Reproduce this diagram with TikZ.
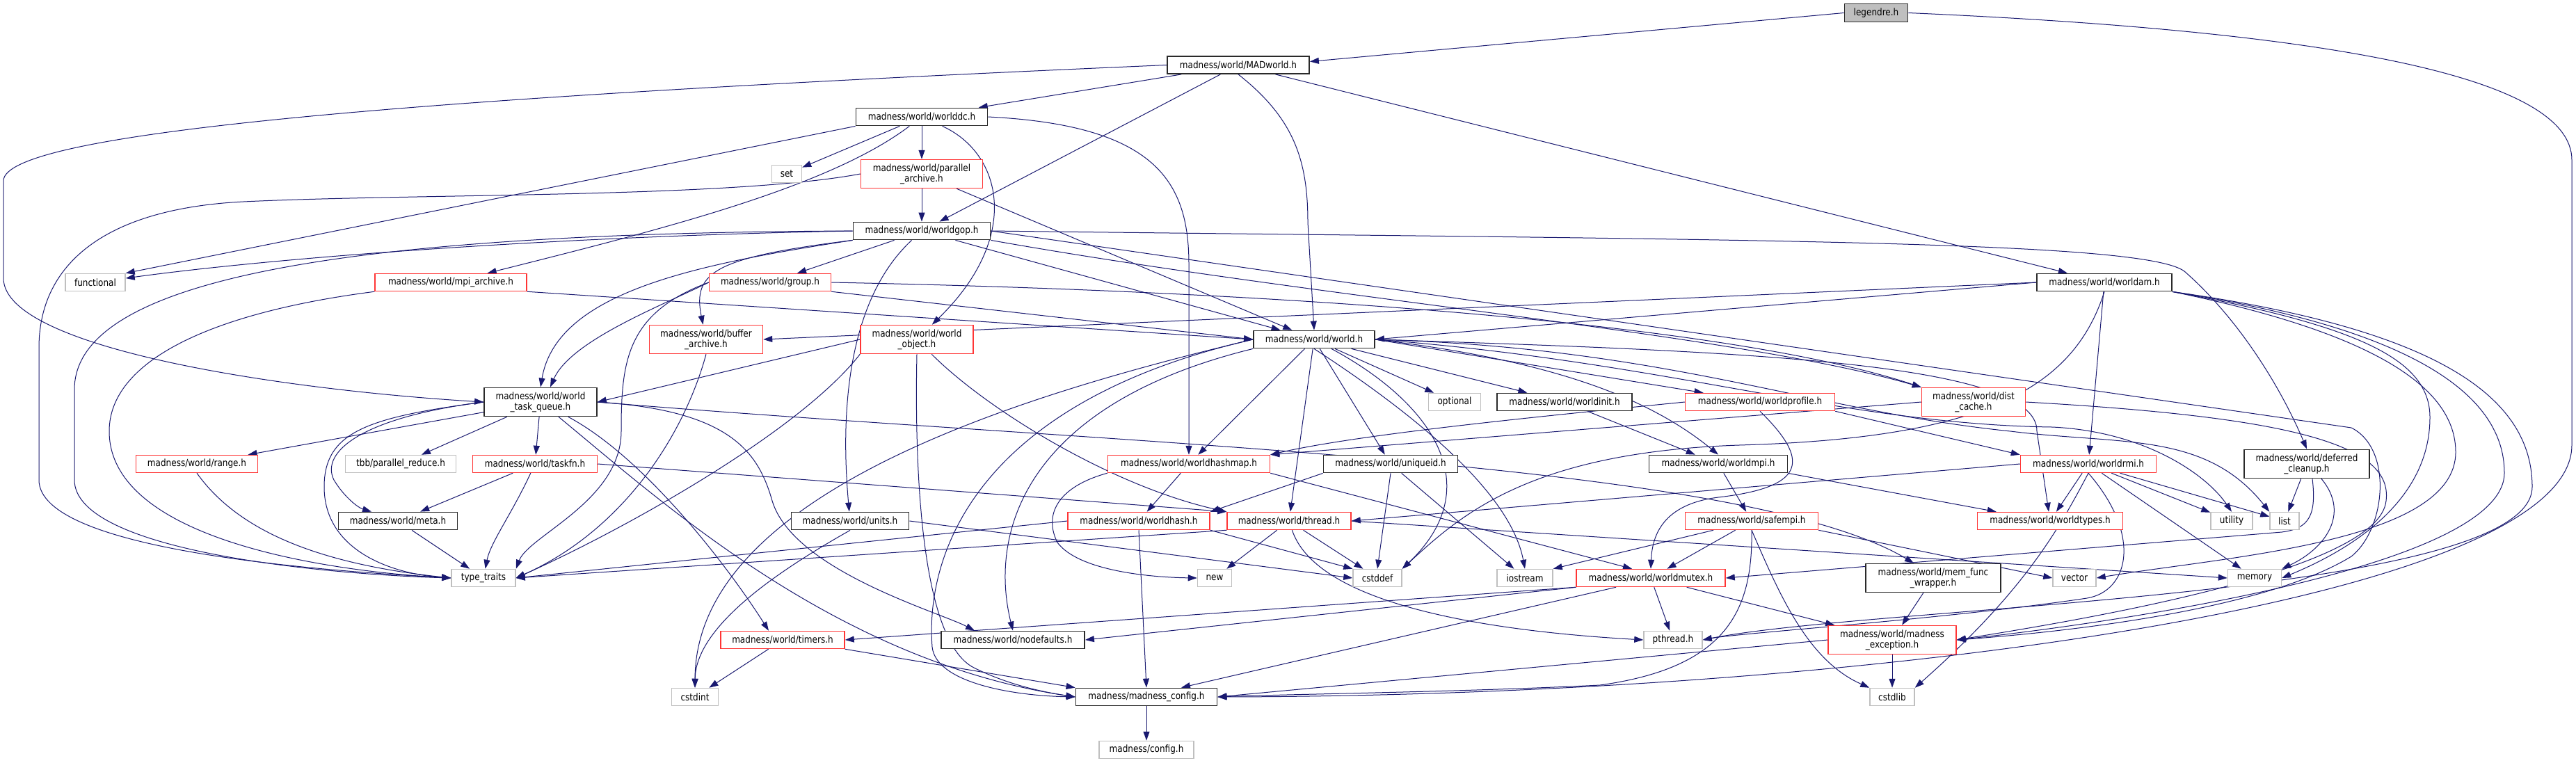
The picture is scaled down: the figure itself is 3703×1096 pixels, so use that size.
\documentclass[tikz,border=0pt]{standalone}
\usepackage{fontspec}
\newfontfamily\nodefont{DejaVu Sans}[FakeStretch=0.86]
\usetikzlibrary{arrows.meta}
\definecolor{edgec}{HTML}{191970}
\definecolor{nred}{HTML}{FF3535}
\definecolor{lgray}{HTML}{BFBFBF}
\definecolor{dgray}{HTML}{2A2A2A}
\pgfdeclarelayer{bg}
\pgfsetlayers{bg,main}
\begin{document}
\begin{tikzpicture}[x=1pt,y=-1pt,
  nd/.style={draw, rectangle, inner sep=0pt, minimum height=25pt, fill=white, line width=1.5pt,
             font={\nodefont\fontsize{14}{15}\selectfont}},
  blk/.style={nd, draw=dgray, line width=1.8pt},
  rd/.style={nd, draw=nred},
  gr/.style={nd, draw=lgray},
  two/.style={minimum height=41pt, align=center},
  e/.style={draw=edgec, line width=1pt, -{Triangle[length=13pt,width=9pt]}}]
\useasboundingbox (0,0) rectangle (3703,1096);

% ---------- nodes ----------
\node[blk, fill=lgray, minimum width=91pt, minimum height=26pt] (legendre) at (2697,18.5) {legendre.h};
\node[blk, minimum width=204pt] (madworld) at (1780,93.5) {madness/world/MADworld.h};
\node[blk, minimum width=189pt] (worlddc) at (1325,168) {madness/world/worlddc.h};
\node[gr, minimum width=43pt] (set) at (1131,250) {set};
\node[rd, two, minimum width=175pt] (parar) at (1325,250) {madness/world/parallel\\\_archive.h};
\node[blk, minimum width=197pt] (worldgop) at (1325,332) {madness/world/worldgop.h};
\node[gr, minimum width=86pt] (functional) at (137,406) {functional};
\node[rd, minimum width=218pt] (mpiar) at (648,406) {madness/world/mpi\_archive.h};
\node[rd, minimum width=175pt] (group) at (1107,406) {madness/world/group.h};
\node[blk, minimum width=194pt] (worldam) at (3025,406) {madness/world/worldam.h};
\node[rd, two, minimum width=163pt] (bufar) at (1015,488) {madness/world/buffer\\\_archive.h};
\node[rd, two, minimum width=162pt] (wobj) at (1318,488) {madness/world/world\\\_object.h};
\node[blk, minimum width=174pt] (world) at (1889,488) {madness/world/world.h};
\node[blk, two, minimum width=162pt] (wtq) at (777,578) {madness/world/world\\\_task\_queue.h};
\node[gr, minimum width=75pt] (optional) at (2091,578) {optional};
\node[blk, minimum width=194pt] (worldinit) at (2249,578) {madness/world/worldinit.h};
\node[rd, minimum width=215pt] (worldprofile) at (2530,578) {madness/world/worldprofile.h};
\node[rd, two, minimum width=149pt] (distcache) at (2837,578) {madness/world/dist\\\_cache.h};
\node[rd, minimum width=175pt] (range) at (283,667) {madness/world/range.h};
\node[gr, minimum width=159pt] (tbb) at (576,667) {tbb/parallel\_reduce.h};
\node[rd, minimum width=179pt] (taskfn) at (769,667) {madness/world/taskfn.h};
\node[rd, minimum width=233pt] (hashmap) at (1709,667) {madness/world/worldhashmap.h};
\node[blk, minimum width=193pt] (uniqueid) at (1999,667) {madness/world/uniqueid.h};
\node[blk, minimum width=199pt] (worldmpi) at (2470,667) {madness/world/worldmpi.h};
\node[rd, minimum width=195pt] (worldrmi) at (3002,667) {madness/world/worldrmi.h};
\node[blk, two, minimum width=180pt] (defcl) at (3316,667) {madness/world/deferred\\\_cleanup.h};
\node[blk, minimum width=171pt] (meta) at (572,749) {madness/world/meta.h};
\node[blk, minimum width=169pt] (units) at (1222,749) {madness/world/units.h};
\node[rd, minimum width=204pt] (worldhash) at (1637,749) {madness/world/worldhash.h};
\node[rd, minimum width=178pt] (thread) at (1853,749) {madness/world/thread.h};
\node[rd, minimum width=191pt] (safempi) at (2518,749) {madness/world/safempi.h};
\node[rd, minimum width=209pt] (worldtypes) at (2947,749) {madness/world/worldtypes.h};
\node[gr, minimum width=60pt] (utility) at (3208,749) {utility};
\node[gr, minimum width=42pt] (list) at (3284,749) {list};
\node[gr, minimum width=92pt] (typetraits) at (695,831) {type\_traits};
\node[gr, minimum width=49pt] (new) at (1746,831) {new};
\node[gr, minimum width=70pt] (cstddef) at (1980,831) {cstddef};
\node[gr, minimum width=80pt] (iostream) at (2192,831) {iostream};
\node[rd, minimum width=214pt] (worldmutex) at (2373,831) {madness/world/worldmutex.h};
\node[blk, two, minimum width=194pt] (memfunc) at (2779,831) {madness/world/mem\_func\\\_wrapper.h};
\node[gr, minimum width=62pt] (vector) at (2982,831) {vector};
\node[gr, minimum width=77pt] (memory) at (3241,831) {memory};
\node[rd, minimum width=178pt] (timers) at (1125,920) {madness/world/timers.h};
\node[blk, minimum width=206pt] (nodefaults) at (1456,920) {madness/world/nodefaults.h};
\node[gr, minimum width=84pt] (pthread) at (2405,920) {pthread.h};
\node[rd, two, minimum width=184pt] (mexc) at (2720,920) {madness/world/madness\\\_exception.h};
\node[gr, minimum width=67pt] (cstdint) at (999,1002) {cstdint};
\node[blk, minimum width=203pt] (mconfig) at (1648,1002) {madness/madness\_config.h};
\node[gr, minimum width=64pt] (cstdlib) at (2720,1002) {cstdlib};
\node[gr, minimum width=136pt] (config) at (1648,1078) {madness/config.h};

% ---------- edges ----------
\begin{pgfonlayer}{bg}
\fill[white] (0,0) rectangle (3703,1096);
% legendre
\draw[e] (legendre.west) -- ([yshift=5pt]madworld.east);
\draw[e] (legendre.east) .. controls (3350,45) and (3697,110) .. (3697,230) -- (3697,640) .. controls (3697,860) and (2700,1000) .. (mconfig.east);
% MADworld
\draw[e] (madworld) -- (worlddc);
\draw[e] (madworld) -- (worldgop);
\draw[e] (madworld.south) .. controls (1860,170) and (1880,230) .. (1880,320) -- (world.north);
\draw[e] (madworld) -- (worldam);
\draw[e] (madworld.west) .. controls (600,140) and (5,190) .. (5,260) -- (5,400) .. controls (5,500) and (400,560) .. (wtq.west);
% worlddc
\draw[e] (worlddc) -- (set);
\draw[e] (worlddc) -- (parar);
\draw[e] (worlddc.south west) -- (functional.north east);
\draw[e] (worlddc) .. controls (1190,270) and (950,330) .. (mpiar);
\draw[e] (worlddc) .. controls (1440,220) and (1470,340) .. (wobj);
\draw[e] (worlddc.east) .. controls (1660,180) and (1709,260) .. (1709,380) -- (hashmap);
% parallel archive
\draw[e] (parar) -- (worldgop);
\draw[e] (parar) -- (world);
\draw[e] (parar.west) .. controls (1050,285) and (600,278) .. (350,290) .. controls (150,300) and (56,380) .. (56,500) -- (56,690) .. controls (56,790) and (450,820) .. (typetraits.west);
% worldgop
\draw[e] (worldgop.west) .. controls (800,340) and (400,370) .. (functional);
\draw[e] (worldgop.west) .. controls (500,335) and (107,400) .. (107,560) -- (107,690) .. controls (107,790) and (450,825) .. (typetraits.west);
\draw[e] (worldgop.south west) .. controls (1000,380) and (800,420) .. (wtq.north);
\draw[e] (worldgop) -- (group);
\draw[e] (worldgop.south west) .. controls (1030,370) and (995,390) .. (bufar);
\draw[e] (worldgop) -- (world);
\draw[e] (worldgop) .. controls (1230,420) and (1205,560) .. (units);
\draw[e] (worldgop.east) .. controls (2500,345) and (3080,345) .. (3140,390) .. controls (3220,460) and (3280,560) .. (defcl.north);
\draw[e] (worldgop.south east) .. controls (1900,430) and (2500,480) .. (distcache.north west);
\draw[e] (worldgop.east) -- (3380,615) .. controls (3440,645) and (3430,760) .. (3380,800) .. controls (3250,880) and (2950,910) .. (mexc.east);
% mpi archive
\draw[e] (mpiar.south east) -- (world.west);
\draw[e] (mpiar.south west) .. controls (300,450) and (157,520) .. (157,620) .. controls (157,770) and (450,820) .. (typetraits.west);
% group
\draw[e] (group.south east) -- (world.west);
\draw[e] (group.west) .. controls (900,450) and (893,520) .. (893,620) .. controls (893,720) and (760,770) .. (typetraits.north east);
\draw[e] (group.west) .. controls (950,440) and (820,490) .. ([xshift=14pt]wtq.north);
\draw[e] (group.east) .. controls (1900,420) and (2500,470) .. (distcache.north west);
% worldam
\draw[e] (worldam.west) -- (world.east);
\draw[e] (worldam.west) -- (bufar.east);
\draw[e] (worldam) -- (worldrmi);
\draw[e] (worldam.south) .. controls (2980,560) and (2850,630) .. (2500,640) .. controls (2200,650) and (2100,740) .. (cstddef.north east);
\draw[e] (worldam.south east) .. controls (3400,470) and (3493,520) .. (3493,600) .. controls (3493,720) and (3380,790) .. (memory.east);
\draw[e] (worldam.south east) .. controls (3420,480) and (3530,560) .. (3530,650) .. controls (3530,780) and (3200,800) .. (vector.east);
\draw[e] (worldam.south east) .. controls (3450,470) and (3600,560) .. (3600,680) .. controls (3600,820) and (3000,900) .. (mexc.east);
\draw[e] (worldam.south east) .. controls (3480,470) and (3640,560) .. (3640,700) .. controls (3640,860) and (2700,870) .. (pthread.east);
% buffer archive
\draw[e] (bufar.south) .. controls (985,620) and (900,760) .. (typetraits.east);
% world object
\draw[e] (wobj.west) -- (wtq.east);
\draw[e] (wobj.south west) .. controls (1150,620) and (900,760) .. (typetraits.east);
\draw[e] (wobj.south) .. controls (1315,650) and (1320,920) .. (1400,960) .. controls (1450,985) and (1500,995) .. (mconfig.west);
\draw[e] (wobj) .. controls (1420,590) and (1600,700) .. (thread.north west);
% world
\draw[e] (world) -- (hashmap);
\draw[e] (world) -- (thread);
\draw[e] (world) -- (uniqueid);
\draw[e] (world) .. controls (2060,580) and (2140,700) .. (cstddef.north east);
\draw[e] (world.south) .. controls (2010,580) and (2170,700) .. (iostream.north);
\draw[e] (world) -- (optional);
\draw[e] (world) -- (worldinit);
\draw[e] (world.east) -- (worldprofile);
\draw[e] (world.east) .. controls (2250,520) and (2380,580) .. (worldmpi.north);
\draw[e] (world.east) .. controls (2500,505) and (2930,520) .. (2928,620) -- (worldtypes);
\draw[e] (world.east) .. controls (2400,500) and (2600,590) .. (2890,620) .. controls (3050,640) and (3170,620) .. (list.north west);
\draw[e] (world.east) .. controls (2400,520) and (2650,610) .. (2950,614) .. controls (3080,620) and (3170,680) .. (utility.north);
\draw[e] (world.south west) .. controls (1480,580) and (1420,760) .. (nodefaults.north);
\draw[e] (world.west) .. controls (1400,580) and (1330,800) .. (1340,930) .. controls (1345,980) and (1450,1000) .. (mconfig.west);
\draw[e] (world.west) .. controls (1500,560) and (1000,700) .. (cstdint.north);
% world task queue
\draw[e] (wtq) -- (range);
\draw[e] (wtq) -- (tbb);
\draw[e] (wtq) -- (taskfn);
\draw[e] (wtq.west) .. controls (520,600) and (460,650) .. (480,690) .. controls (495,715) and (515,730) .. ([xshift=-38pt]meta.north);
\draw[e] (wtq.west) .. controls (530,600) and (466,620) .. (466,700) .. controls (466,790) and (560,825) .. (typetraits.west);
\draw[e] (wtq) .. controls (930,660) and (1050,820) .. ([xshift=-20pt]timers.north);
\draw[e] (wtq.east) .. controls (1050,590) and (1090,650) .. (1110,720) .. controls (1140,820) and (1350,880) .. ([xshift=-55pt]nodefaults.north);
\draw[e] (wtq) .. controls (950,720) and (1200,950) .. (mconfig.west);
\draw[e] (wtq.east) .. controls (1600,640) and (2500,660) .. ([xshift=-28pt]memfunc.north);
% taskfn, range, meta
\draw[e] (taskfn) -- (meta);
\draw[e] (taskfn) .. controls (735,740) and (705,780) .. (typetraits);
\draw[e] (taskfn.east) -- (thread.north west);
\draw[e] (range.south) .. controls (340,760) and (450,810) .. (typetraits.west);
\draw[e] (meta) -- (typetraits);
% worldhashmap
\draw[e] (hashmap) -- (worldhash);
\draw[e] (hashmap.south west) .. controls (1520,700) and (1500,740) .. (1520,780) .. controls (1550,820) and (1650,830) .. (new.west);
\draw[e] (hashmap.south east) -- ([xshift=-27pt]worldmutex.north);
% worldhash
\draw[e] (worldhash.west) -- (typetraits.east);
\draw[e] (worldhash.south) -- (mconfig.north);
\draw[e] (worldhash.south east) -- (cstddef.north west);
% thread
\draw[e] (thread.south west) -- (typetraits.east);
\draw[e] (thread) -- (new);
\draw[e] (thread) .. controls (1890,860) and (2100,905) .. (pthread.west);
\draw[e] (thread) -- (cstddef);
\draw[e] (thread.east) -- (memory.west);
% units, timers, config
\draw[e] (units.south) .. controls (1120,820) and (1000,900) .. (cstdint.north);
\draw[e] (units.east) -- (cstddef.west);
\draw[e] (timers) -- (cstdint);
\draw[e] (timers.south east) -- (mconfig.north west);
\draw[e] (mconfig) -- (config);
% uniqueid
\draw[e] (uniqueid.south west) -- (worldhash.north east);
\draw[e] (uniqueid.south) -- (cstddef.north);
\draw[e] (uniqueid) -- (iostream);
% worldinit, worldmpi
\draw[e] (worldinit) -- (worldmpi);
\draw[e] (worldmpi) -- (safempi);
\draw[e] (worldmpi.south east) -- ([xshift=28pt]worldtypes.north west);
% worldprofile
\draw[e] (worldprofile.west) .. controls (2200,600) and (1950,625) .. (hashmap.north east);
\draw[e] (worldprofile.south) .. controls (2600,660) and (2600,700) .. (2470,715) .. controls (2390,725) and (2375,770) .. (worldmutex.north);
\draw[e] (worldprofile.south east) -- (worldrmi.north west);
% safempi
\draw[e] (safempi) -- (iostream.north east);
\draw[e] (safempi) -- (worldmutex);
\draw[e] (safempi.south) .. controls (2520,880) and (2480,960) .. (2300,985) .. controls (2100,995) and (1850,998) .. (mconfig.east);
\draw[e] (safempi.south) .. controls (2560,860) and (2600,950) .. (cstdlib.north west);
\draw[e] (safempi.south east) -- (vector.west);
% dist cache
\draw[e] (distcache.west) -- (hashmap.north east);
\draw[e] (distcache.east) .. controls (3300,600) and (3440,640) .. (3430,720) .. controls (3420,820) and (3000,890) .. (mexc.east);
% worldrmi
\draw[e] (worldrmi) -- (worldtypes);
\draw[e] (worldrmi) -- (utility);
\draw[e] (worldrmi) -- (list);
\draw[e] (worldrmi) -- (memory);
\draw[e] (worldrmi.west) -- (thread.east);
\draw[e] (worldrmi.south) .. controls (3080,770) and (3060,850) .. (3000,860) .. controls (2800,890) and (2500,910) .. (pthread.east);
\draw[e] (worldrmi.south) .. controls (2960,760) and (2910,850) .. (cstdlib.north east);
% deferred cleanup
\draw[e] (defcl) -- (list);
\draw[e] ([xshift=21pt]defcl.south) .. controls (3380,740) and (3340,790) .. (memory.north east);
\draw[e] ([xshift=8pt]defcl.south) .. controls (3330,740) and (3320,760) .. (3280,765) -- (worldmutex.east);
% worldmutex
\draw[e] (worldmutex) -- (pthread);
\draw[e] (worldmutex) -- (mexc);
\draw[e] (worldmutex.south west) -- (timers.east);
\draw[e] (worldmutex.south west) -- (nodefaults.east);
\draw[e] ([xshift=-50pt]worldmutex.south) -- ([xshift=50pt]mconfig.north);
% mem func wrapper, madness exception
\draw[e] (memfunc) -- (mexc);
\draw[e] (mexc) -- (cstdlib);
\draw[e] (mexc.west) -- (mconfig.east);
\end{pgfonlayer}
\end{tikzpicture}
\end{document}
